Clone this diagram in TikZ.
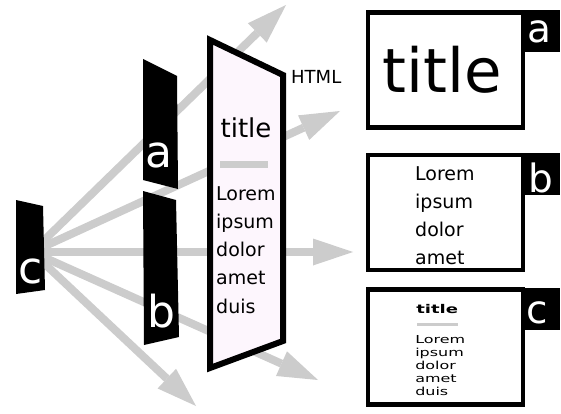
\documentclass[tikz,border=0pt]{standalone}
\usepackage{fontspec}
\setmainfont{DejaVu Sans}
\usetikzlibrary{arrows.meta}
\definecolor{arrowgray}{RGB}{204,204,204}
\definecolor{panelpink}{RGB}{253,246,253}
\begin{document}
\begin{tikzpicture}[x=1pt,y=-1pt,
  flow/.style={draw=arrowgray, line width=8pt, -{Triangle[length=40pt,width=27pt,line width=0pt]}},
  blk/.style={fill=black},
  letter/.style={text=white, inner sep=0pt, anchor=base, font=\fontsize{44}{44}\selectfont},
  tabletter/.style={text=white, inner sep=0pt, anchor=base, font=\fontsize{39}{39}\selectfont},
  box/.style={draw=black, line width=4.5pt, minimum width=155pt, minimum height=115pt, inner sep=0pt},
  tab/.style={fill=black, minimum width=39pt, minimum height=42pt, inner sep=0pt},
  txt/.style={inner sep=0pt, anchor=base west},
  bar/.style={draw=arrowgray},
  ]
\useasboundingbox (0,0) rectangle (561,414);
% arrows
\coordinate (src) at (32,252);
\coordinate (t1) at (286,5);
\coordinate (t2) at (340,111);
\coordinate (t3) at (353,252);
\coordinate (t4) at (318,380);
\coordinate (t5) at (196,406);
\foreach \t in {t1,t2,t3,t4,t5} \draw[flow] (src) -- (\t);
% black slabs
\path[blk] (143,59) -- (177,76) -- (178,189) -- (143,180) -- cycle;
\path[blk] (143,191) -- (176,200) -- (179,337) -- (144,345) -- cycle;
\path[blk] (16,200) -- (43,206) -- (45,290) -- (16,294) -- cycle;
\node[letter] (la) at (159,167) {a};
\node[letter] (lb) at (161,327) {b};
\node[letter] (lc) at (30.5,283) {c};
% HTML panel
\draw[fill=panelpink, line width=6pt, line join=miter] (210,40) -- (283,75) -- (283,341) -- (210,368) -- cycle;
\node[inner sep=0pt, anchor=base, font=\fontsize{26}{26}\selectfont] (ptitle) at (246,138) {title};
\draw[bar, line width=7pt] (220,164.5) -- (268,164.5);
\foreach \w [count=\i] in {Lorem,ipsum,dolor,amet,duis}
  \node[txt, font=\fontsize{19}{19}\selectfont] (pl\i) at (216,{200+28.3*(\i-1)}) {\w};
\node[txt, font=\fontsize{18}{18}\selectfont] (html) at (291,84) {HTML};
% result boxes
\node[box] (boxa) at (445.5,70) {};
\node[box] (boxb) at (445.5,212.5) {};
\node[box] (boxc) at (445.5,347) {};
\node[inner sep=0pt, anchor=base, font=\fontsize{61}{61}\selectfont] (atitle) at (442,93) {title};
\foreach \w [count=\i] in {Lorem,ipsum,dolor,amet}
  \node[txt, font=\fontsize{19}{19}\selectfont] (bl\i) at (415,{180+28.3*(\i-1)}) {\w};
\node[txt, font=\bfseries\fontsize{12}{12}\selectfont, xscale=1.5] (ctitle) at (416,313) {title};
\draw[bar, line width=3pt] (417,324) -- (458,324);
\foreach \w [count=\i] in {Lorem,ipsum,dolor,amet,duis}
  \node[txt, font=\fontsize{11}{11}\selectfont, xscale=1.45] (cl\i) at (415,{343+13*(\i-1)}) {\w};
% tabs
\node[tab] (taba) at (540.5,31) {};
\node[tab] (tabb) at (540.5,174) {};
\node[tab] (tabc) at (540.5,308.5) {};
\node[tabletter] (ta) at (539.5,43) {a};
\node[tabletter] (tb) at (541,192) {b};
\node[tabletter] (tc) at (537,323) {c};
\end{tikzpicture}
\end{document}
